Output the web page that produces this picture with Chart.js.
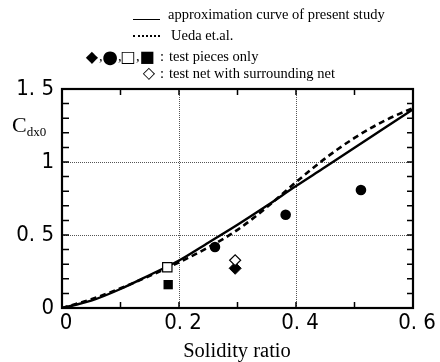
<!DOCTYPE html>
<html>
<head>
<meta charset="utf-8">
<script src="https://cdn.jsdelivr.net/npm/chart.js@4.4.1/dist/chart.umd.min.js"></script>
<style>
  html, body { margin: 0; padding: 0; background: #fff; }
  #wrap { position: relative; width: 440px; height: 362px; overflow: hidden; }
  canvas { position: absolute; left: 0; top: 0; }
  .t { position: absolute; white-space: nowrap; font-family: "Liberation Serif", "Times New Roman", serif; color: #000; line-height: 1; }
  .sym { position: absolute; font-family: "DejaVu Sans", sans-serif; color: #000; line-height: 1; text-align: center; }
</style>
</head>
<body>
<div id="wrap">
  <canvas id="c" width="440" height="362"></canvas>
  <!-- legend -->
  <div style="position:absolute; left:133px; top:19px; width:27px; border-top:1.6px solid #000;"></div>
  <div class="t" style="left:168px; top:7px; font-size:14.5px;">approximation curve of present study</div>
  <div style="position:absolute; left:133px; top:35px; width:27px; border-top:2px dotted #000;"></div>
  <div class="t" style="left:171px; top:28px; font-size:14.5px;">Ueda et.al.</div>
  <div class="sym" style="left:83px; top:49px; width:18px; font-size:16px;">◆</div>
  <div class="t" style="left:99px; top:49px; font-size:14.5px;">,</div>
  <div class="sym" style="left:101px; top:48px; width:18px; font-size:18px;">●</div>
  <div class="t" style="left:118px; top:49px; font-size:14.5px;">,</div>
  <div class="sym" style="left:119px; top:49px; width:18px; font-size:16px;">□</div>
  <div class="t" style="left:136px; top:49px; font-size:14.5px;">,</div>
  <div class="sym" style="left:138px; top:49px; width:18px; font-size:16px;">■</div>
  <div class="t" style="left:160px; top:49px; font-size:14.5px;">:</div>
  <div class="t" style="left:169px; top:49px; font-size:14.5px;">test pieces only</div>
  <div class="sym" style="left:140px; top:65px; width:18px; font-size:16px;">◇</div>
  <div class="t" style="left:160px; top:66px; font-size:14.5px;">:</div>
  <div class="t" style="left:169px; top:66px; font-size:14.5px;">test net with surrounding net</div>
  <!-- axis titles -->
  <div class="t" style="left:12px; top:114px; font-size:22px;">C<span style="font-size:13px; position:relative; top:4px;">dx0</span></div>
  <div class="t" style="left:137px; top:340px; width:200px; text-align:center; font-size:20.5px;">Solidity ratio</div>
</div>
<script>
// ---- data ----
const solidity = [0, 0.05, 0.1, 0.15, 0.2, 0.25, 0.3, 0.35, 0.4, 0.45, 0.5, 0.55, 0.6];
const presentStudy = [0, 0.05, 0.13, 0.226, 0.325, 0.447, 0.57, 0.7, 0.835, 0.965, 1.097, 1.23, 1.36];
const uedaEtAl = [0, 0.06, 0.135, 0.22, 0.312, 0.415, 0.535, 0.69, 0.862, 1.025, 1.165, 1.28, 1.37];

const diamondX = [0.296];       const diamondY = [0.272];
const openDiamondX = [0.296];   const openDiamondY = [0.327];
const circleX = [0.2615, 0.3823, 0.511]; const circleY = [0.418, 0.639, 0.808];
const openSquareX = [0.18];     const openSquareY = [0.279];
const squareX = [0.1815];       const squareY = [0.160];

const xTickLabels = { "0": "0", "0.2": "0. 2", "0.4": "0. 4", "0.6": "0. 6" };
const yTickLabels = { "0": "0", "0.5": "0. 5", "1": "1", "1.5": "1. 5" };
const xGridAt = [0.2, 0.4];
const yGridAt = [0.5, 1.0];

const pts = (xs, ys) => xs.map((x, i) => ({ x, y: ys[i] }));
const key = v => String(Math.round(v * 10) / 10);

const framePlugin = {
  id: 'frame',
  beforeDatasetsDraw(chart) {
    const { ctx, chartArea: a, scales: { x, y } } = chart;
    ctx.save();
    ctx.strokeStyle = '#555';
    ctx.lineWidth = 1;
    ctx.setLineDash([1, 1]);
    xGridAt.forEach(v => {
      const px = Math.round(x.getPixelForValue(v)) + 0.5;
      ctx.beginPath(); ctx.moveTo(px, a.top); ctx.lineTo(px, a.bottom); ctx.stroke();
    });
    yGridAt.forEach(v => {
      const py = Math.round(y.getPixelForValue(v)) + 0.5;
      ctx.beginPath(); ctx.moveTo(a.left, py); ctx.lineTo(a.right, py); ctx.stroke();
    });
    ctx.restore();
  },
  afterDraw(chart) {
    const { ctx, chartArea: a, scales: { x, y } } = chart;
    ctx.save();
    ctx.strokeStyle = '#000';
    ctx.lineWidth = 1.5;
    ctx.setLineDash([]);
    x.ticks.forEach(t => {
      const px = x.getPixelForValue(t.value);
      ctx.beginPath();
      ctx.moveTo(px, a.top); ctx.lineTo(px, a.top + 6);
      ctx.moveTo(px, a.bottom); ctx.lineTo(px, a.bottom - 6);
      ctx.stroke();
    });
    y.ticks.forEach(t => {
      const py = y.getPixelForValue(t.value);
      ctx.beginPath();
      ctx.moveTo(a.left, py); ctx.lineTo(a.left + 7, py);
      ctx.moveTo(a.right, py); ctx.lineTo(a.right - 6, py);
      ctx.stroke();
    });
    ctx.lineWidth = 2.2;
    ctx.strokeRect(a.left, a.top, a.right - a.left, a.bottom - a.top);
    ctx.restore();
  }
};

const tickFont = { family: '"Liberation Sans Narrow", "DejaVu Sans Condensed", "Liberation Sans", sans-serif', size: 22 };

new Chart(document.getElementById('c'), {
  type: 'scatter',
  data: {
    datasets: [
      { label: 'approximation curve of present study', data: pts(solidity, presentStudy), showLine: true,
        borderColor: '#000', borderWidth: 2.4, pointRadius: 0, cubicInterpolationMode: 'monotone', order: 2 },
      { label: 'Ueda et.al.', data: pts(solidity, uedaEtAl), showLine: true,
        borderColor: '#000', borderWidth: 2.6, borderDash: [6, 4], pointRadius: 0, cubicInterpolationMode: 'monotone', order: 2 },
      { label: 'diamond', data: pts(diamondX, diamondY), pointStyle: 'rectRot', pointRadius: 6,
        backgroundColor: '#000', borderColor: '#000', borderWidth: 1, order: 1 },
      { label: 'open diamond', data: pts(openDiamondX, openDiamondY), pointStyle: 'rectRot', pointRadius: 5.5,
        backgroundColor: '#fff', borderColor: '#000', borderWidth: 1.2, order: 0 },
      { label: 'circle', data: pts(circleX, circleY), pointStyle: 'circle', pointRadius: 5.3,
        backgroundColor: '#000', borderColor: '#000', borderWidth: 0, order: 1 },
      { label: 'open square', data: pts(openSquareX, openSquareY), pointStyle: 'rect', pointRadius: 6.6,
        backgroundColor: '#fff', borderColor: '#000', borderWidth: 1.2, order: 1 },
      { label: 'square', data: pts(squareX, squareY), pointStyle: 'rect', pointRadius: 6.6,
        backgroundColor: '#000', borderColor: '#000', borderWidth: 0, order: 1 }
    ]
  },
  options: {
    responsive: false,
    animation: false,
    devicePixelRatio: 1,
    layout: { padding: { left: 0, top: 89, right: 27, bottom: 0 } },
    plugins: { legend: { display: false }, tooltip: { enabled: false } },
    scales: {
      x: {
        type: 'linear', min: 0, max: 0.6,
        grid: { display: false, drawTicks: false },
        border: { display: false },
        ticks: {
          stepSize: 0.1, autoSkip: false, maxRotation: 0, padding: 2, labelOffset: 4,
          color: '#000', font: tickFont,
          callback: v => xTickLabels[key(v)] ?? ''
        },
        afterFit: s => { s.height = 54; }
      },
      y: {
        type: 'linear', min: 0, max: 1.5,
        grid: { display: false, drawTicks: false },
        border: { display: false },
        ticks: {
          stepSize: 0.1, autoSkip: false, padding: 8,
          color: '#000', font: tickFont,
          callback: v => yTickLabels[key(v)] ?? ''
        },
        afterFit: s => { s.width = 62; }
      }
    }
  },
  plugins: [framePlugin]
});
</script>
</body>
</html>
